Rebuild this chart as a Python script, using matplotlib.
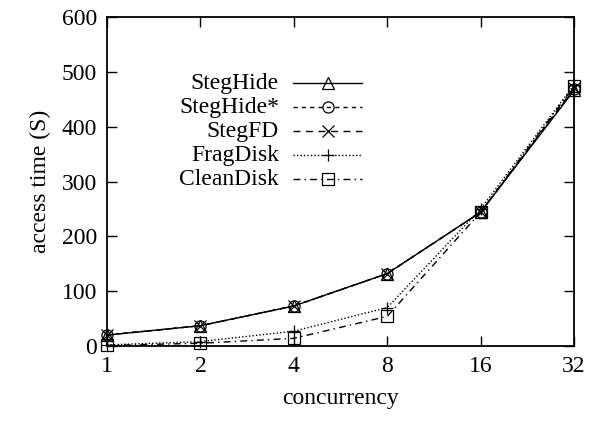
import matplotlib
matplotlib.use("Agg")
import matplotlib.pyplot as plt
from matplotlib.lines import Line2D

plt.rcParams['font.family'] = ['Liberation Serif', 'DejaVu Serif']

concurrency = [1, 2, 4, 8, 16, 32]
steghide = [20, 37, 73, 132, 244, 466]
steghide_star = [20, 37, 73, 132, 244, 468]
stegfd = [20, 37, 73, 132, 244, 470]
fragdisk = [2, 8, 27, 70, 250, 476]
cleandisk = [1, 5, 14, 54, 244, 474]
labels = ['StegHide', 'StegHide*', 'StegFD', 'FragDisk', 'CleanDisk']

W, H = 589, 423
fig = plt.figure(figsize=(W / 100, H / 100), dpi=100)
L, R, T, B = 107, 574, 17, 346
ax = fig.add_axes([L / W, 1 - B / H, (R - L) / W, (B - T) / H])

series = [steghide, steghide_star, stegfd, fragdisk, cleandisk]
linestyles = ['-', (0, (3, 3)), (0, (5, 4)), (0, (1, 1.5)), (0, (5, 3, 1, 3))]
markers = ['^', 'o', 'x', '+', 's']
style = dict(color='black', lw=1, markersize=8, markerfacecolor='none',
             markeredgewidth=0.9)
for vals, ls, mk, lab in zip(series, linestyles, markers, labels):
    ax.plot(concurrency, vals, linestyle=ls, marker=mk, label=lab,
            clip_on=False, **style)

ax.set_xscale('log', base=2)
ax.set_xlim(1, 32)
ax.set_ylim(0, 600)
ax.set_xticks(concurrency)
ax.set_xticklabels([str(c) for c in concurrency])
ax.minorticks_off()
ax.set_yticks(range(0, 601, 100))
ax.tick_params(direction='in', top=True, right=True, labelsize=17, length=7,
               width=1, pad=7)
for s in ax.spines.values():
    s.set_linewidth(1.3)
ax.set_xlabel('concurrency', fontsize=17, labelpad=8)
ax.set_ylabel('access time (S)', fontsize=17, labelpad=8)

# gnuplot-style key: right-aligned labels, sample line to the right
text_right = 279
line_x0, line_x1 = 293, 362
row_y0, row_dy = 83, 24
for i, (ls, mk, lab) in enumerate(zip(linestyles, markers, labels)):
    y = 1 - (row_y0 + i * row_dy) / H
    fig.text(text_right / W, y, lab, ha='right', va='center', fontsize=17)
    fig.add_artist(Line2D([line_x0 / W, line_x1 / W], [y, y], linestyle=ls,
                          color='black', lw=1, transform=fig.transFigure))
    fig.add_artist(Line2D([(line_x0 + line_x1) / 2 / W], [y], marker=mk,
                          linestyle='none', color='black', markersize=8,
                          markerfacecolor='none', markeredgewidth=0.9,
                          transform=fig.transFigure))

fig.savefig('out.png', dpi=100)
